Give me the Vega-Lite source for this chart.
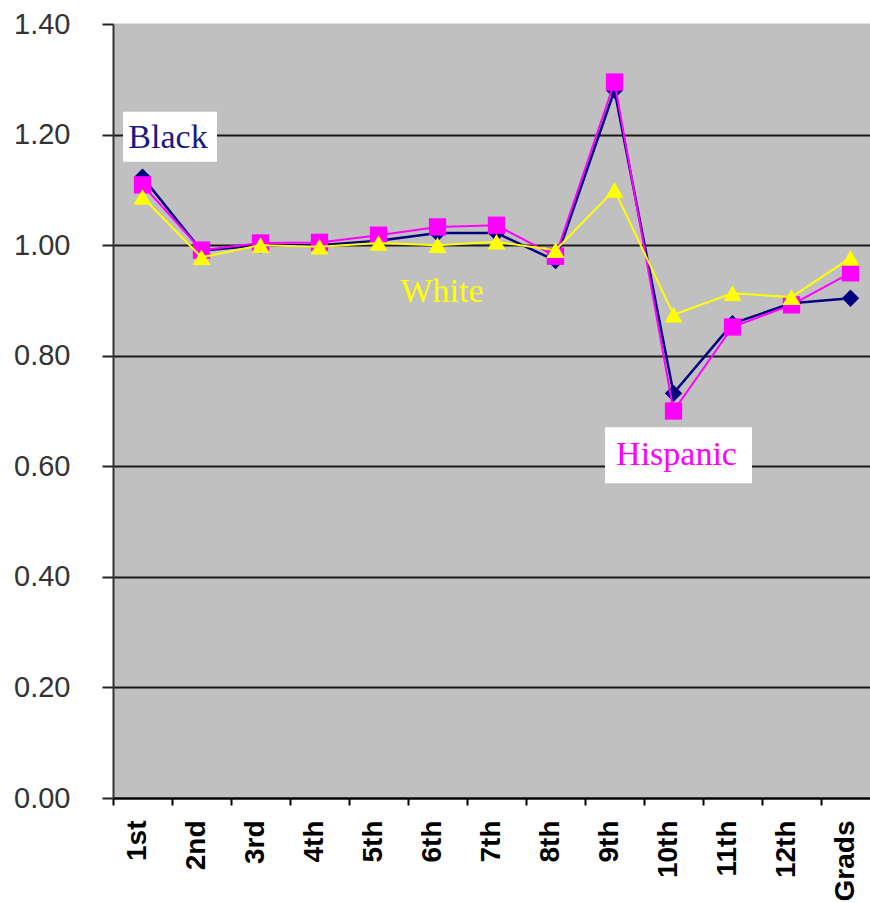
{
  "$schema": "https://vega.github.io/schema/vega-lite/v6.json",
  "width": 767,
  "height": 774,
  "autosize": {"type": "none"},
  "padding": {"left": 113, "top": 24, "right": -10, "bottom": 105},
  "background": "white",
  "config": {"view": {"fill": "#C0C0C0", "stroke": null}},
  "datasets": {
    "series": [
      {"grade": "1st", "group": "Black", "value": 1.123},
      {"grade": "2nd", "group": "Black", "value": 0.99},
      {"grade": "3rd", "group": "Black", "value": 1.0},
      {"grade": "4th", "group": "Black", "value": 1.0},
      {"grade": "5th", "group": "Black", "value": 1.008},
      {"grade": "6th", "group": "Black", "value": 1.022},
      {"grade": "7th", "group": "Black", "value": 1.022},
      {"grade": "8th", "group": "Black", "value": 0.972},
      {"grade": "9th", "group": "Black", "value": 1.28},
      {"grade": "10th", "group": "Black", "value": 0.732},
      {"grade": "11th", "group": "Black", "value": 0.858},
      {"grade": "12th", "group": "Black", "value": 0.895},
      {"grade": "Grads", "group": "Black", "value": 0.904},
      {"grade": "1st", "group": "Hispanic", "value": 1.109},
      {"grade": "2nd", "group": "Hispanic", "value": 0.991},
      {"grade": "3rd", "group": "Hispanic", "value": 1.004},
      {"grade": "4th", "group": "Hispanic", "value": 1.005},
      {"grade": "5th", "group": "Hispanic", "value": 1.018},
      {"grade": "6th", "group": "Hispanic", "value": 1.033},
      {"grade": "7th", "group": "Hispanic", "value": 1.036},
      {"grade": "8th", "group": "Hispanic", "value": 0.98},
      {"grade": "9th", "group": "Hispanic", "value": 1.295},
      {"grade": "10th", "group": "Hispanic", "value": 0.7},
      {"grade": "11th", "group": "Hispanic", "value": 0.852},
      {"grade": "12th", "group": "Hispanic", "value": 0.892},
      {"grade": "Grads", "group": "Hispanic", "value": 0.95},
      {"grade": "1st", "group": "White", "value": 1.087},
      {"grade": "2nd", "group": "White", "value": 0.978},
      {"grade": "3rd", "group": "White", "value": 1.0},
      {"grade": "4th", "group": "White", "value": 0.997},
      {"grade": "5th", "group": "White", "value": 1.004},
      {"grade": "6th", "group": "White", "value": 1.0},
      {"grade": "7th", "group": "White", "value": 1.006},
      {"grade": "8th", "group": "White", "value": 0.991},
      {"grade": "9th", "group": "White", "value": 1.1},
      {"grade": "10th", "group": "White", "value": 0.874},
      {"grade": "11th", "group": "White", "value": 0.913},
      {"grade": "12th", "group": "White", "value": 0.906},
      {"grade": "Grads", "group": "White", "value": 0.977}
    ],
    "labels": [
      {"label": "Black", "grade": "1st", "value": 1.176},
      {"label": "Hispanic", "grade": "10th", "value": 0.602},
      {"label": "White", "grade": "6th", "value": 0.897}
    ]
  },
  "encoding": {
    "x": {
      "field": "grade",
      "type": "nominal",
      "sort": ["1st", "2nd", "3rd", "4th", "5th", "6th", "7th", "8th", "9th", "10th", "11th", "12th", "Grads"],
      "scale": {"type": "band", "paddingInner": 0, "paddingOuter": 0},
      "axis": {
        "title": null,
        "labelAngle": -90,
        "labelFont": "Liberation Sans",
        "labelFontWeight": "bold",
        "labelFontSize": 28,
        "labelColor": "black",
        "tickBand": "extent",
        "tickSize": 7,
        "tickColor": "black",
        "tickWidth": 2,
        "domainColor": "black",
        "domainWidth": 2,
        "labelPadding": 15,
        "labelOffset": -5,
        "grid": false
      }
    },
    "y": {
      "field": "value",
      "type": "quantitative",
      "scale": {"domain": [0, 1.4], "nice": false, "zero": true},
      "axis": {
        "title": null,
        "values": [0, 0.2, 0.4, 0.6, 0.8, 1.0, 1.2, 1.4],
        "format": ".2f",
        "labelFont": "Liberation Sans",
        "labelFontSize": 29,
        "labelColor": "#333333",
        "tickSize": 11,
        "tickColor": "#222222",
        "tickWidth": 2,
        "labelPadding": 32,
        "domainColor": "#333333",
        "domainWidth": 2,
        "gridColor": {"condition": {"test": "datum.value >= 1.39", "value": "#C0C0C0"}, "value": "#1a1a1a"},
        "gridWidth": 2
      }
    }
  },
  "layer": [
    {
      "data": {"name": "series"},
      "transform": [{"filter": "datum.group === 'Black'"}],
      "mark": {"type": "line", "color": "#000080", "strokeWidth": 2.5,
        "point": {"shape": "diamond", "size": 300, "filled": true, "color": "#000080", "opacity": 1}}
    },
    {
      "data": {"name": "series"},
      "transform": [{"filter": "datum.group === 'Hispanic'"}],
      "mark": {"type": "line", "color": "#FF00FF", "strokeWidth": 2,
        "point": {"shape": "square", "size": 300, "filled": true, "color": "#FF00FF", "opacity": 1}}
    },
    {
      "data": {"name": "series"},
      "transform": [{"filter": "datum.group === 'White'"}],
      "mark": {"type": "line", "color": "#FFFF00", "strokeWidth": 2,
        "point": {"shape": "triangle-up", "size": 324, "filled": true, "color": "#FFFF00", "opacity": 1}}
    },
    {
      "data": {"name": "labels"},
      "transform": [{"filter": "datum.label !== 'White'"}],
      "mark": {"type": "point", "filled": true, "color": "white", "opacity": 1, "size": 4, "strokeWidth": 0},
      "encoding": {
        "shape": {
          "field": "label",
          "type": "nominal",
          "scale": {"domain": ["Black", "Hispanic"], "range": ["M-19.5,-36H74.5V14H-19.5Z", "M-68.5,-38H78.5V18H-68.5Z"]},
          "legend": null
        }
      }
    },
    {
      "data": {"name": "labels"},
      "transform": [{"filter": "datum.label === 'Black'"}],
      "mark": {"type": "text", "font": "Liberation Serif", "fontSize": 34, "color": "#1a1a80", "align": "center", "baseline": "alphabetic", "dx": 25.5},
      "encoding": {"text": {"field": "label"}}
    },
    {
      "data": {"name": "labels"},
      "transform": [{"filter": "datum.label === 'Hispanic'"}],
      "mark": {"type": "text", "font": "Liberation Serif", "fontSize": 34, "color": "#FF00FF", "align": "center", "baseline": "alphabetic", "dx": 3},
      "encoding": {"text": {"field": "label"}}
    },
    {
      "data": {"name": "labels"},
      "transform": [{"filter": "datum.label === 'White'"}],
      "mark": {"type": "text", "font": "Liberation Serif", "fontSize": 34, "color": "#FFFF00", "align": "center", "baseline": "alphabetic", "dx": 4.5},
      "encoding": {"text": {"field": "label"}}
    }
  ]
}
